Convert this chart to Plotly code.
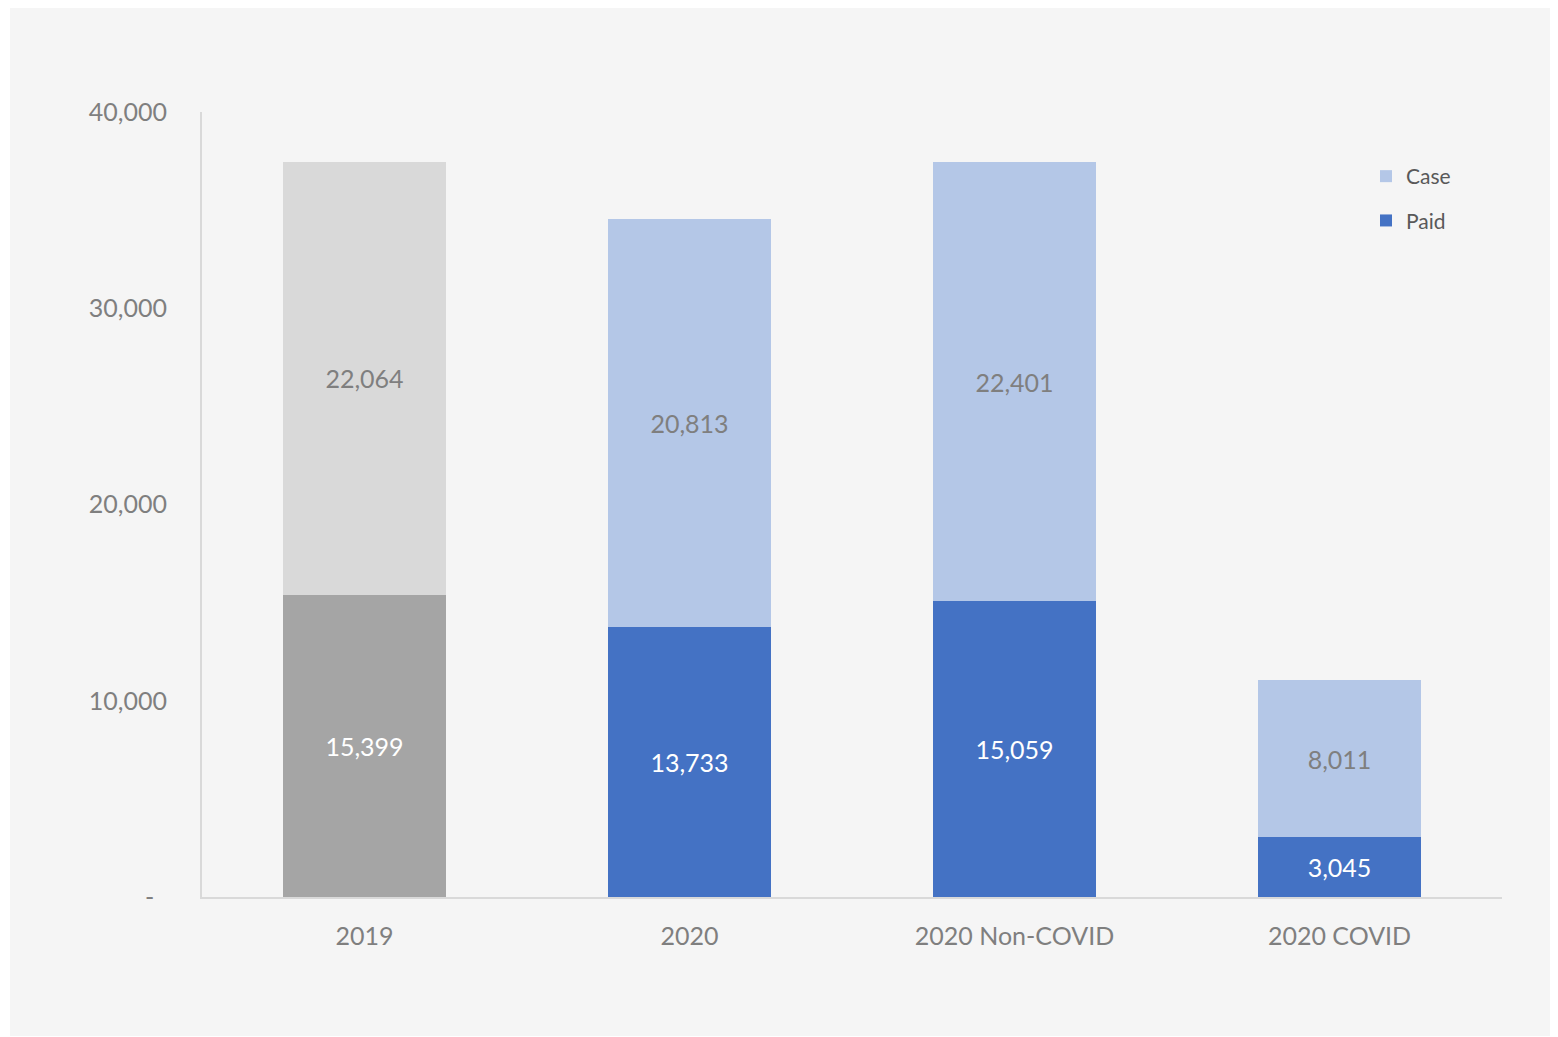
import plotly.graph_objects as go

categories = ["2019", "2020", "2020 Non-COVID", "2020 COVID"]
paid = [15399, 13733, 15059, 3045]
case = [22064, 20813, 22401, 8011]
y_ticks = [0, 10000, 20000, 30000, 40000]
y_tick_labels = ["-\u00a0\u00a0", "10,000", "20,000", "30,000", "40,000"]

GRAY_DARK, GRAY_LIGHT = "#a5a5a5", "#d9d9d9"
BLUE_DARK, BLUE_LIGHT = "#4472c4", "#b4c7e7"
FONT = "Lato, 'Open Sans', sans-serif"

# page is rendered with an 8px body margin; compensate
OFF = 8
PL, PR, PT, PB = 202, 1502, 112, 897  # plot area on screen


def lab(v):
    return f"{v:,}"


fig = go.Figure()
# 2019 (gray) vs 2020 series (blue)
fig.add_trace(go.Bar(
    x=categories[:1], y=paid[:1], showlegend=False, legendgroup="paid",
    marker=dict(color=GRAY_DARK, line=dict(width=0)),
    text=[lab(v) for v in paid[:1]], textposition="inside",
    insidetextanchor="middle", textangle=0,
    textfont=dict(color="white", size=25, family=FONT), hoverinfo="skip",
))
fig.add_trace(go.Bar(
    x=categories[1:], y=paid[1:], name="Paid", legendrank=2, legendgroup="paid",
    marker=dict(color=BLUE_DARK, line=dict(width=0)),
    text=[lab(v) for v in paid[1:]], textposition="inside",
    insidetextanchor="middle", textangle=0,
    textfont=dict(color="white", size=25, family=FONT), hoverinfo="skip",
))
fig.add_trace(go.Bar(
    x=categories[:1], y=case[:1], showlegend=False, legendgroup="case",
    marker=dict(color=GRAY_LIGHT, line=dict(width=0)),
    text=[lab(v) for v in case[:1]], textposition="inside",
    insidetextanchor="middle", textangle=0,
    textfont=dict(color="#7f7f7f", size=25, family=FONT), hoverinfo="skip",
))
fig.add_trace(go.Bar(
    x=categories[1:], y=case[1:], name="Case", legendrank=1, legendgroup="case",
    marker=dict(color=BLUE_LIGHT, line=dict(width=0)),
    text=[lab(v) for v in case[1:]], textposition="inside",
    insidetextanchor="middle", textangle=0,
    textfont=dict(color="#7f7f7f", size=25, family=FONT), hoverinfo="skip",
))

W, H = 1558, 1037
fig.update_layout(
    barmode="stack",
    bargap=0.5,
    width=W, height=H,
    margin=dict(l=PL - OFF, r=W + OFF - PR, t=PT - OFF, b=H + OFF - PB),
    paper_bgcolor="white",
    plot_bgcolor="rgba(0,0,0,0)",
    font=dict(family=FONT, color="#7f7f7f", size=25),
    showlegend=True,
    legend=dict(
        x=(1366 - PL) / (PR - PL), y=(PB - 156) / (PB - PT),
        xanchor="left", yanchor="top",
        traceorder="grouped", tracegroupgap=14,
        font=dict(size=21, color="#595959", family=FONT),
        bgcolor="rgba(0,0,0,0)", itemwidth=30,
    ),
    xaxis=dict(
        categoryorder="array", categoryarray=categories,
        showline=True, linecolor="#d9d9d9", linewidth=2,
        showgrid=False, ticks="", ticklabelstandoff=16,
        tickfont=dict(size=25, color="#7f7f7f"),
    ),
    yaxis=dict(
        range=[0, 40000], tickvals=y_ticks, ticktext=y_tick_labels,
        showline=True, linecolor="#d9d9d9", linewidth=2,
        showgrid=False, zeroline=False, ticks="", ticklabelstandoff=28,
        tickfont=dict(size=25, color="#7f7f7f"),
    ),
    shapes=[dict(
        type="rect", xref="paper", yref="paper",
        x0=(10 - PL) / (PR - PL), x1=(1557 - PL) / (PR - PL),
        y0=(PB - 1036) / (PB - PT), y1=(PB - 7) / (PB - PT),
        fillcolor="#f5f5f5", line=dict(width=0), layer="below",
    )],
)

fig.write_html("out.html")
